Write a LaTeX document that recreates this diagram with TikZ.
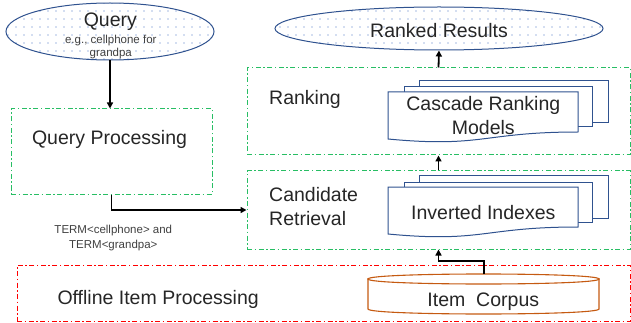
\documentclass[tikz,border=0pt]{standalone}
\usepackage{fontspec}
\setmainfont{Liberation Sans}
\usetikzlibrary{arrows.meta,patterns.meta,shapes.geometric,calc}
\definecolor{grn}{RGB}{40,190,100}
\definecolor{blu}{RGB}{47,82,143}
\definecolor{dotb}{RGB}{68,114,196}
\definecolor{org}{RGB}{197,90,17}
\definecolor{txt}{RGB}{38,38,38}
\newcommand\docstack[1]{%
  \draw[pg] (419,#1-11) rectangle (608,#1+31);
  \draw[pg] (404,#1-5) rectangle (592,#1+35);
  \draw[pg] (388,#1) -- (578,#1) -- (578,#1+40) .. controls (483,#1+40) and (483,#1+56) .. (388,#1+47) -- cycle;
}
\begin{document}
\begin{tikzpicture}[x=1pt,y=-1pt,
  big/.style={font=\fontsize{19.5}{22}\selectfont, text=txt, inner sep=0, anchor=base},
  small/.style={font=\fontsize{11.5}{14}\selectfont, text=black!75, inner sep=0, anchor=base},
  oval/.style={ellipse, draw=blu, line width=1pt, pattern={Dots[distance=8pt,radius=0.55pt]}, pattern color=dotb, inner sep=0},
  grnbox/.style={rectangle, draw=grn, line width=1pt, dash pattern=on 5pt off 2.5pt on 1.5pt off 2.5pt, inner sep=0},
  redbox/.style={rectangle, draw=red, line width=1pt, dash pattern=on 5pt off 2.5pt on 1.5pt off 2.5pt, inner sep=0},
  arr/.style={line width=1.8pt, -{Triangle[length=6pt,width=6pt]}},
  pg/.style={draw=blu, line width=1pt, fill=white},
  cyl/.style={draw=org, line width=1.1pt, fill=white}]
\useasboundingbox (0,0) rectangle (631,323);

% query ellipse
\node[oval, minimum width=208, minimum height=57] (query) at (110,31.5) {};
\node[big] (qtitle) at (110.3,27) {Query};
\node[small] (qex1) at (110.8,44) {e.g., cellphone for};
\node[small] (qex2) at (110.8,57) {grandpa};

% query processing
\node[grnbox, minimum width=201, minimum height=85] (qp) at (111.5,151.5) {};
\node[big] (qplabel) at (109.5,145) {Query Processing};

% ranked results
\node[oval, minimum width=328, minimum height=43] (results) at (439,28.5) {};
\node[big] (rrlabel) at (439,38) {Ranked Results};

% ranking
\node[grnbox, minimum width=383, minimum height=87] (rank) at (438.5,111.5) {};
\node[big, anchor=base west] (ranklabel) at (269,105) {Ranking};
\docstack{92}
\node[big] (casc1) at (483.3,111) {Cascade Ranking};
\node[big] (casc2) at (483.3,135) {Models};

% candidate retrieval
\node[grnbox, minimum width=383, minimum height=78] (cand) at (438.5,210) {};
\node[big, anchor=base west] (candlabel1) at (269,201.5) {Candidate};
\node[big, anchor=base west] (candlabel2) at (269,225) {Retrieval};
\docstack{187}
\node[big] (inv) at (483.3,219) {Inverted Indexes};

% offline
\node[redbox, minimum width=613, minimum height=56] (offline) at (323.5,293) {};
\node[big, anchor=base west] (offlabel) at (57.3,304) {Offline Item Processing};

% item corpus cylinder
\draw[cyl] (368,279) -- (368,309) .. controls (368,315.67) and (599,315.67) .. (599,309) -- (599,279) -- cycle;
\draw[cyl] (368,279) .. controls (368,272.33) and (599,272.33) .. (599,279) .. controls (599,285.67) and (368,285.67) .. (368,279) -- cycle;
\coordinate (ctop) at (484,274);
\node[big] (corpus) at (483.3,306) {Item~~Corpus};

% term label
\node[small] (term1) at (113.3,233.3) {TERM<cellphone> and};
\node[small] (term2) at (113.3,248.3) {TERM<grandpa>};

% connectors
\draw[arr] (query.south) -- (query.south |- qp.north);
\draw[arr] (qp.south) |- (cand.west);
\draw[arr] (ctop) -- ++(0,-13) -| (cand.south);
\draw[arr] (cand.north) -- (rank.south);
\draw[arr] (rank.north) -- (results.south);
\end{tikzpicture}
\end{document}
